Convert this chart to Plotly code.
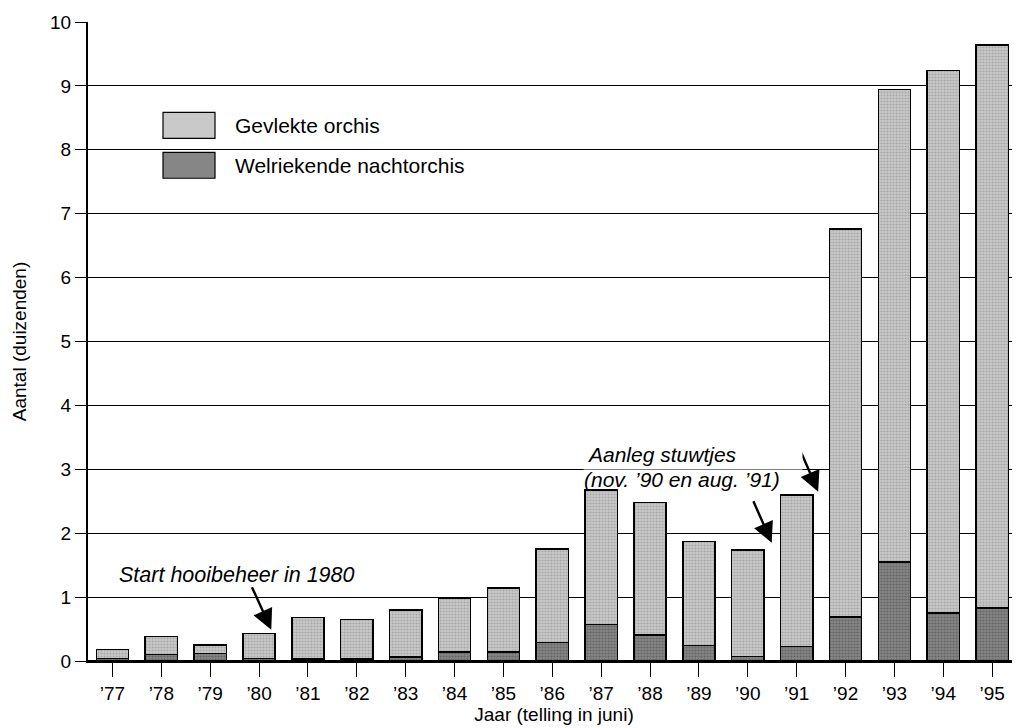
import plotly.graph_objects as go

years = ["’77", "’78", "’79", "’80", "’81", "’82", "’83", "’84", "’85", "’86",
         "’87", "’88", "’89", "’90", "’91", "’92", "’93", "’94", "’95"]
welriekende = [0.04, 0.10, 0.12, 0.04, 0.03, 0.03, 0.06, 0.14, 0.14, 0.29,
               0.57, 0.41, 0.24, 0.07, 0.23, 0.69, 1.55, 0.75, 0.83]
gevlekte = [0.14, 0.28, 0.13, 0.39, 0.65, 0.62, 0.74, 0.84, 1.00, 1.46,
            2.11, 2.07, 1.63, 1.67, 2.37, 6.07, 7.39, 8.49, 8.81]
y_ticks = [0, 1, 2, 3, 4, 5, 6, 7, 8, 9, 10]
series_names = ["Gevlekte orchis", "Welriekende nachtorchis"]

FONT = "Liberation Sans, Arial, sans-serif"
LIGHT_BG, LIGHT_FG = "#c9c9c9", "#858585"
DARK_BG, DARK_FG = "#868686", "#444444"

fig = go.Figure()
fig.add_trace(go.Bar(
    x=years, y=welriekende, name=series_names[1],
    marker=dict(color=DARK_BG, line=dict(color="black", width=1.5),
                pattern=dict(shape=".", fgcolor=DARK_FG, bgcolor=DARK_BG,
                             size=3, solidity=0.4)),
    width=0.66, showlegend=False,
))
fig.add_trace(go.Bar(
    x=years, y=gevlekte, name=series_names[0],
    marker=dict(color=LIGHT_BG, line=dict(color="black", width=1.5),
                pattern=dict(shape=".", fgcolor=LIGHT_FG, bgcolor=LIGHT_BG,
                             size=3, solidity=0.4)),
    width=0.66, showlegend=False,
))

# page coordinates of the plot area (the page body adds an 8px offset)
PL, PR, PT, PB = 88, 1020, 21.5, 661.5

def px_x(p):
    return (p - PL) / (PR - PL)

def py(p):
    return (PB - p) / (PB - PT)

# legend drawn as large swatches + labels, as in the original
for (yc, col, name) in [(125, LIGHT_BG, series_names[0]),
                        (165, DARK_BG, series_names[1])]:
    fig.add_shape(type="rect", xref="paper", yref="paper",
                  x0=px_x(163), x1=px_x(215), y0=py(yc + 13), y1=py(yc - 13),
                  fillcolor=col, line=dict(color="black", width=1.2))
    fig.add_annotation(xref="paper", yref="paper", x=px_x(233), y=py(yc),
                       xanchor="left", yanchor="middle", text=name, showarrow=False,
                       font=dict(family=FONT, size=21, color="black"))

# arrows
arrow = dict(showarrow=True, arrowhead=2, arrowsize=1.7, arrowwidth=2.4,
             arrowcolor="black", text="", xref="x", yref="y", axref="pixel", ayref="pixel")
fig.add_annotation(x=3.25, y=0.49, ax=-20, ay=-44, **arrow)
fig.add_annotation(x=13.49, y=1.85, ax=-19, ay=-43, **arrow)
fig.add_annotation(x=14.44, y=2.65, ax=-19, ay=-44, **arrow)

fig.add_annotation(x=px_x(117), xref="paper", y=1.35, yref="y", xanchor="left", yanchor="middle",
                   text="<i>Start hooibeheer in 1980</i>", showarrow=False,
                   font=dict(family=FONT, size=21.5, color="black"))
fig.add_annotation(x=9.62, xref="x", y=3.23, yref="y", xanchor="left", yanchor="middle",
                   text="<i>Aanleg stuwtjes</i>", showarrow=False,
                   align="left", bgcolor="white", borderpad=3, width=212,
                   font=dict(family=FONT, size=21, color="black"))
fig.add_annotation(x=9.62, xref="x", y=2.84, yref="y", xanchor="left", yanchor="middle",
                   text="<i>(nov. ’90 en aug. ’91)</i>", showarrow=False,
                   align="left", borderpad=0,
                   font=dict(family=FONT, size=21, color="black"))

fig.update_layout(
    width=1012, height=720,
    margin=dict(l=PL - 8, r=0, t=PT - 8, b=720 - (PB - 8)),
    paper_bgcolor="white", plot_bgcolor="white",
    barmode="stack",
    font=dict(family=FONT, size=19, color="black"),
    showlegend=False,
    xaxis=dict(range=[-0.5, 18.57], showline=True, linecolor="black", linewidth=1.5,
               ticks="outside", ticklen=14, tickcolor="black", tickwidth=1,
               tickfont=dict(family=FONT, size=19), automargin=False,
               title=dict(text="Jaar (telling in juni)", font=dict(family=FONT, size=19), standoff=0)),
    yaxis=dict(range=[0, 10], tickvals=y_ticks, showline=True, linecolor="black", linewidth=2,
               showgrid=True, gridcolor="black", gridwidth=1,
               ticks="outside", ticklen=11, tickcolor="black", tickwidth=1,
               tickfont=dict(family=FONT, size=19), zeroline=True, zerolinecolor="black",
               automargin=False,
               title=dict(text="Aantal (duizenden)", font=dict(family=FONT, size=19), standoff=18)),
)

fig.write_html("out.html")
